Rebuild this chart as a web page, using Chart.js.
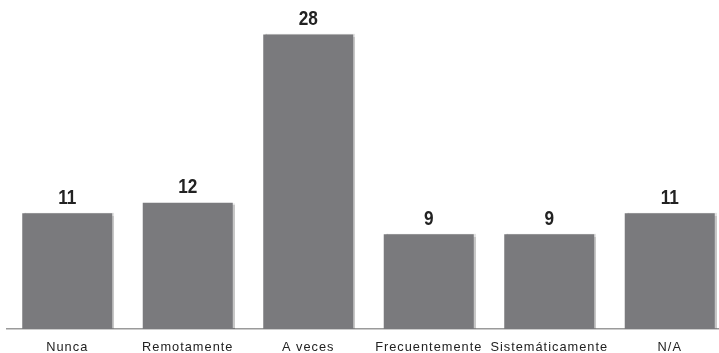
<!DOCTYPE html>
<html>
<head>
<meta charset="utf-8">
<script src="https://cdn.jsdelivr.net/npm/chart.js@4"></script>
<style>
  html, body { margin: 0; padding: 0; background: #fff; overflow: hidden; }
  #wrap { width: 730px; height: 353px; position: relative; }
</style>
</head>
<body>
<div id="wrap"><canvas id="c"></canvas></div>
<script>
const categories = ["Nunca", "Remotamente", "A veces", "Frecuentemente", "Sistemáticamente", "N/A"];
const values = [11, 12, 28, 9, 9, 11];

const shadowPlugin = {
  id: 'barShadow',
  beforeDraw(chart) {
    chart.ctx.letterSpacing = '1px';
  },
  beforeDatasetsDraw(chart) {
    const ctx = chart.ctx;
    ctx.save();
    ctx.shadowColor = 'rgba(0,0,0,0.22)';
    ctx.shadowOffsetX = 2;
    ctx.shadowOffsetY = 0;
    ctx.shadowBlur = 1;
  },
  afterDatasetsDraw(chart) {
    const ctx = chart.ctx;
    ctx.restore();
    ctx.save();
    ctx.letterSpacing = '0px';
    ctx.font = "bold 20px 'Liberation Sans', Arial, sans-serif";
    ctx.fillStyle = '#222';
    ctx.textAlign = 'center';
    ctx.textBaseline = 'alphabetic';
    const meta = chart.getDatasetMeta(0);
    meta.data.forEach((bar, i) => {
      ctx.save();
      ctx.translate(bar.x, bar.y - 9.5);
      ctx.scale(0.86, 1);
      ctx.fillText(String(chart.data.datasets[0].data[i]), 0, 0);
      ctx.restore();
    });
    ctx.restore();
  }
};

new Chart(document.getElementById('c'), {
  type: 'bar',
  data: {
    labels: categories,
    datasets: [{
      data: values,
      backgroundColor: '#7a7a7d',
      borderWidth: 0,
      barPercentage: 0.747,
      categoryPercentage: 1.0
    }]
  },
  options: {
    responsive: true,
    maintainAspectRatio: false,
    animation: false,
    events: [],
    layout: { padding: { left: 7, right: 0, top: 13.4, bottom: 0 } },
    plugins: { legend: { display: false }, tooltip: { enabled: false } },
    scales: {
      x: {
        grid: { display: false, drawTicks: false },
        border: { display: true, color: '#9a9a9a', width: 1.5 },
        afterFit(scale) { scale.height = 24; },
        ticks: {
          color: '#222',
          padding: 11,
          maxRotation: 0,
          autoSkip: false,
          font: { family: "'Liberation Sans', Arial, sans-serif", size: 12.8 }
        }
      },
      y: {
        display: false,
        min: 0,
        max: 30
      }
    }
  },
  plugins: [shadowPlugin]
});
</script>
</body>
</html>
